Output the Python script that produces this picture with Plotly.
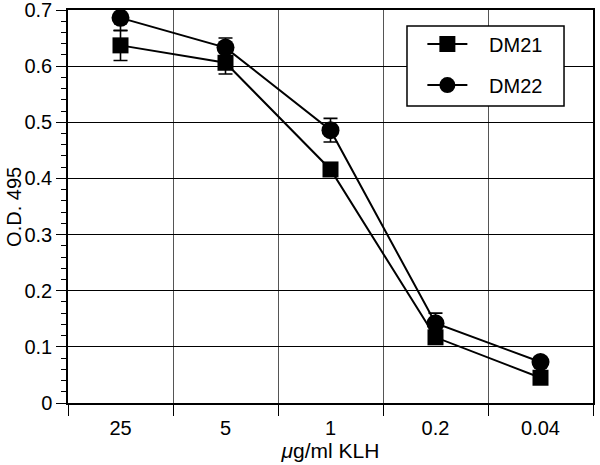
import plotly.graph_objects as go

categories = ["25", "5", "1", "0.2", "0.04"]
dm21 = [0.637, 0.606, 0.416, 0.117, 0.045]
dm21_err = [0.027, 0.020, 0.010, 0.010, 0.008]
dm22 = [0.686, 0.633, 0.486, 0.142, 0.073]
dm22_err = [0.023, 0.017, 0.021, 0.018, 0.008]

xpos = list(range(len(categories)))
bounds = [i - 0.5 for i in range(len(categories) + 1)]
pad = "\u00a0\u00a0\u00a0"

fig = go.Figure()
fig.add_trace(go.Scatter(
    x=xpos, y=dm21, name=pad + "DM21", mode="lines+markers", legendgroup="a",
    line=dict(color="black", width=2),
    marker=dict(symbol="square", size=16, color="black"),
    error_y=dict(type="data", array=dm21_err, color="black", thickness=1.6, width=7),
))
fig.add_trace(go.Scatter(
    x=xpos, y=dm22, name=pad + "DM22", mode="lines+markers", legendgroup="b",
    line=dict(color="black", width=2),
    marker=dict(symbol="circle", size=18, color="black"),
    error_y=dict(type="data", array=dm22_err, color="black", thickness=1.6, width=7),
))

font = dict(family="Liberation Sans, Arial, sans-serif", size=20, color="black")

fig.update_layout(
    width=600, height=465,
    margin=dict(l=68, r=7, t=10, b=62),
    paper_bgcolor="white", plot_bgcolor="white",
    font=font,
    showlegend=True,
    legend=dict(
        x=0.675, y=0.963, xanchor="left", yanchor="top",
        bgcolor="rgba(0,0,0,0)", borderwidth=0,
        font=dict(size=20), tracegroupgap=12,
        itemwidth=40,
    ),
    shapes=[dict(type="rect", xref="paper", yref="paper",
                 x0=0.6457, x1=0.9448, y0=0.7557, y1=0.959,
                 line=dict(color="black", width=1.5), fillcolor="white", layer="above")],
    annotations=[dict(text="O.D. 495", xref="paper", yref="paper",
                      x=-0.104, y=0.5, xanchor="center", yanchor="middle",
                      textangle=-90, showarrow=False, borderpad=0,
                      font=dict(size=20))],
    xaxis=dict(
        range=[-0.5, 4.5], tickmode="array", tickvals=xpos, ticktext=categories,
        showgrid=False, zeroline=False, automargin=False,
        ticks="outside", ticklen=6, tickcolor="rgba(0,0,0,0)",
        ticklabeloverflow="allow",
        showline=True, linecolor="black", linewidth=2, mirror=True,
        minor=dict(tickmode="array", tickvals=bounds, ticks="outside", ticklen=11,
                   tickcolor="black", tickwidth=1, showgrid=True,
                   gridcolor="#555555", gridwidth=1),
        title=dict(text="<i>μ</i>g/ml KLH", font=dict(size=21), standoff=0),
    ),
    yaxis=dict(
        range=[0, 0.7], tickmode="linear", tick0=0, dtick=0.1,
        tickformat="~g", automargin=False, ticklabeloverflow="allow",
        showgrid=True, gridcolor="black", gridwidth=1, zeroline=False,
        ticks="outside", ticklen=10, tickcolor="black", tickwidth=1,
        showline=True, linecolor="black", linewidth=1.5, mirror=True,
        minor=dict(dtick=0.02, ticks="outside", ticklen=5, tickcolor="black",
                   tickwidth=1, showgrid=False),
    ),
)

fig.write_html("out.html", config={"displayModeBar": False},
               post_script="document.body.style.margin='0px';")
